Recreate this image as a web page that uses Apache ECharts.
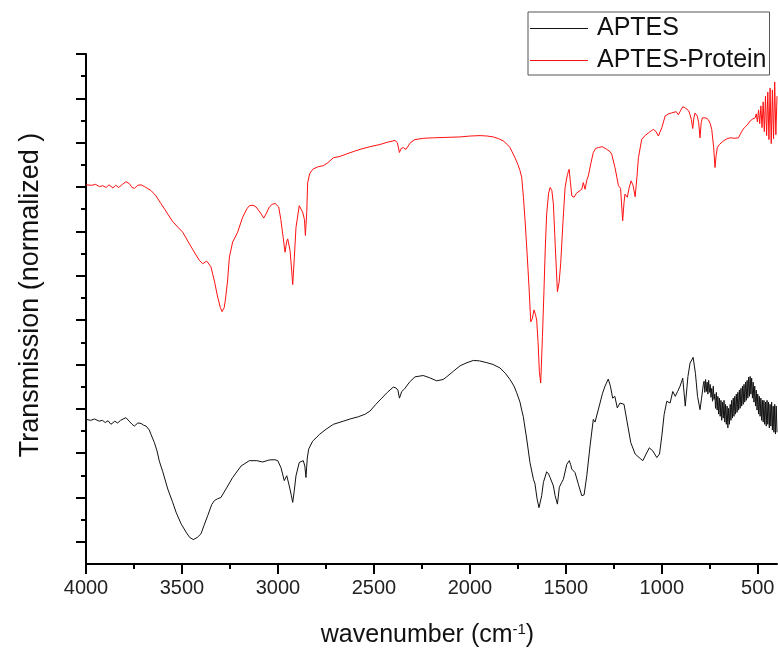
<!DOCTYPE html>
<html>
<head>
<meta charset="utf-8">
<script src="https://cdn.jsdelivr.net/npm/echarts@6/dist/echarts.min.js"></script>
<style>
  html, body { margin: 0; padding: 0; background: #fff; }
  #chart { width: 778px; height: 653px; }
</style>
</head>
<body>
<div id="chart"></div>
<script>
// FTIR spectra, wavenumber in cm^-1, transmission in normalized (offset) units

const aptesWavenumber = [4000,3975,3955,3931,3915,3900,3885,3870,3861,3850,3835,3820,3792,3775,3760,3748,3730,3713,3700,3687,3670,3661,3644,3630,3618,3600,3574,3550,3531,3505,3479,3460,3441,3420,3401,3385,3366,3345,3331,3315,3297,3271,3236,3192,3149,3110,3079,3050,3036,3015,3001,2984,2967,2954,2941,2930,2923,2915,2906,2889,2868,2860,2854,2847,2840,2819,2784,2749,2711,2660,2624,2581,2545,2520,2490,2459,2430,2399,2385,2375,2367,2355,2340,2315,2286,2243,2210,2173,2140,2121,2085,2051,2015,1982,1950,1912,1880,1843,1815,1791,1770,1756,1739,1730,1722,1704,1687,1669,1661,1650,1640,1635,1626,1617,1600,1590,1582,1565,1556,1544,1534,1523,1513,1495,1482,1475,1469,1452,1435,1417,1405,1391,1374,1357,1348,1339,1322,1309,1296,1279,1268,1256,1245,1232,1218,1197,1180,1162,1139,1113,1099,1082,1065,1047,1026,1012,1000,988,974,957,943,930,918,905,891,878,864,853,845,837,825,814,801,793,784,
  780,776,772,768,764,760,756,752,748,744,740,736,732,728,724,720,716,712,708,704,700,696,692,688,684,680,676,672,668,664,660,656,652,648,644,640,636,632,628,624,620,616,612,608,604,600,596,592,588,584,580,576,572,568,564,560,556,552,548,544,540,536,532,528,524,520,516,512,508,504,500,496,492,488,484,480,476,472,468,464,460,456,452,448,444,440,436,432,428,424,420,416,412,408,404,400];
const aptesSignal = [3.26,3.24,3.27,3.22,3.24,3.19,3.23,3.15,3.15,3.22,3.18,3.24,3.30,3.22,3.15,3.11,3.18,3.17,3.13,3.11,3.02,2.92,2.74,2.55,2.32,2.08,1.69,1.41,1.17,0.91,0.72,0.60,0.55,0.60,0.68,0.87,1.09,1.34,1.43,1.47,1.50,1.69,1.95,2.21,2.33,2.33,2.30,2.34,2.35,2.35,2.33,2.17,1.88,1.99,1.76,1.54,1.39,1.65,1.99,2.29,2.33,2.21,1.95,2.39,2.59,2.77,2.92,3.04,3.15,3.22,3.27,3.32,3.38,3.45,3.60,3.74,3.87,3.99,3.97,3.92,3.74,3.89,3.95,4.10,4.22,4.25,4.20,4.13,4.16,4.22,4.35,4.47,4.54,4.59,4.58,4.54,4.50,4.42,4.30,4.16,4.01,3.86,3.65,3.47,3.33,2.82,2.29,1.91,1.81,1.47,1.27,1.24,1.54,1.84,2.08,2.03,1.95,1.76,1.54,1.35,1.73,1.83,1.91,2.25,2.33,2.24,2.14,2.06,1.80,1.54,1.56,1.99,2.66,3.26,3.20,3.18,3.63,3.85,4.01,4.17,4.01,3.74,3.78,3.52,3.63,3.60,3.18,2.74,2.48,2.38,2.33,2.48,2.62,2.55,2.40,2.48,2.89,3.37,3.67,3.63,3.89,3.78,3.89,4.01,4.19,3.56,4.23,4.53,4.57,4.66,4.30,3.78,3.48,3.74,4.04,
  4.12,3.87,4.16,3.89,4.10,3.83,4.14,3.87,4.05,3.76,3.96,3.67,4.01,3.71,3.83,3.51,3.87,3.47,3.78,3.38,3.74,3.33,3.69,3.24,3.65,3.29,3.69,3.20,3.60,3.15,3.56,3.07,3.51,3.15,3.60,3.24,3.69,3.29,3.74,3.33,3.78,3.38,3.83,3.42,3.87,3.47,3.92,3.51,3.96,3.56,4.01,3.60,4.05,3.65,4.10,3.69,4.14,3.74,4.21,3.78,4.23,3.83,4.19,3.74,4.10,3.65,4.01,3.56,3.92,3.47,3.83,3.38,3.78,3.33,3.74,3.24,3.69,3.20,3.69,3.15,3.65,3.11,3.69,3.15,3.65,3.07,3.60,3.11,3.65,3.02,3.56,2.97,3.60,2.93,3.56,2.97];

const proteinWavenumber = [4000,3970,3950,3930,3913,3895,3880,3860,3845,3830,3810,3792,3775,3760,3748,3730,3713,3695,3680,3661,3648,3635,3610,3590,3574,3550,3520,3496,3460,3430,3410,3392,3371,3349,3330,3314,3300,3291,3280,3274,3263,3253,3236,3210,3184,3160,3149,3130,3114,3090,3074,3060,3045,3030,3015,2996,2985,2975,2963,2955,2949,2937,2930,2923,2915,2906,2889,2871,2862,2857,2850,2845,2835,2819,2790,2764,2740,2711,2677,2640,2600,2572,2520,2468,2430,2390,2378,2367,2358,2347,2333,2310,2286,2240,2190,2120,2051,2000,1947,1910,1878,1850,1826,1805,1791,1765,1750,1739,1730,1721,1712,1704,1692,1683,1675,1666,1658,1652,1645,1638,1631,1622,1614,1607,1600,1590,1582,1573,1565,1555,1544,1535,1527,1515,1504,1492,1483,1476,1469,1457,1445,1435,1417,1409,1400,1390,1383,1370,1357,1345,1331,1310,1287,1270,1261,1244,1226,1215,1204,1197,1192,1180,1170,1160,1150,1139,1130,1122,1105,1088,1070,1055,1044,1030,1018,1000,990,983,965,950,940,925,914,900,891,880,870,860,853,846,839,833,827,815,808,801,795,789,770,758,748,740,730,723,717,711,700,690,679,660,644,620,601,590,583,570,555,540,525,514,508,502,496,490,484,478,472,466,460,454,448,442,436,430,424,418,412,406,400];
const proteinSignal = [8.55,8.54,8.56,8.51,8.53,8.49,8.55,8.48,8.54,8.49,8.56,8.62,8.58,8.49,8.47,8.54,8.55,8.51,8.47,8.42,8.36,8.30,8.13,8.00,7.89,7.73,7.59,7.48,7.21,6.99,6.85,6.77,6.83,6.70,6.36,6.02,5.78,5.69,5.78,5.95,6.36,6.92,7.26,7.48,7.82,8.02,8.08,8.09,8.05,7.91,7.80,7.91,8.05,8.11,8.13,8.05,7.77,7.44,7.03,7.26,7.33,7.07,6.70,6.30,6.88,7.59,8.08,7.93,7.77,7.41,7.93,8.60,8.80,8.90,8.96,8.98,9.05,9.16,9.19,9.25,9.31,9.35,9.41,9.46,9.51,9.55,9.50,9.28,9.37,9.39,9.35,9.50,9.57,9.60,9.61,9.62,9.63,9.65,9.66,9.65,9.63,9.59,9.54,9.46,9.39,9.16,9.01,8.87,8.72,8.27,7.71,7.15,6.25,5.46,5.53,5.73,5.62,5.50,5.02,4.34,4.08,5.13,6.17,7.15,7.89,8.36,8.49,8.42,8.12,7.15,6.14,6.36,6.77,7.71,8.49,8.78,8.90,8.60,8.30,8.27,8.36,8.38,8.45,8.60,8.45,8.67,8.75,9.03,9.28,9.37,9.39,9.41,9.35,9.30,9.24,8.94,8.53,8.47,7.74,8.15,8.34,8.27,8.49,8.64,8.54,8.28,8.71,9.16,9.57,9.66,9.72,9.77,9.80,9.75,9.65,9.84,9.99,10.10,10.15,10.17,10.21,10.20,10.13,10.24,10.31,10.29,10.25,10.22,10.13,10.02,9.82,10.06,10.17,10.10,9.95,9.61,9.95,10.06,10.06,10.02,9.93,9.80,9.39,8.94,9.21,9.39,9.46,9.50,9.54,9.59,9.61,9.60,9.61,9.70,9.76,9.84,9.90,9.99,10.04,10.06,10.15,9.97,10.24,9.93,10.33,9.84,10.42,9.75,10.55,9.66,10.64,9.57,10.73,9.48,10.69,9.59,10.87,9.68,10.55];

// Axis ticks (no value labels on the vertical axis)
const xMajorTicks = [4000,3500,3000,2500,2000,1500,1000,500];
const xMinorTicks = [3750,3250,2750,2250,1750,1250,750];
const yMajorTicks = [0.5,1.5,2.5,3.5,4.5,5.5,6.5,7.5,8.5,9.5,10.5,11.5];
const yMinorTicks = [1,2,3,4,5,6,7,8,9,10,11];

const seriesNames = ['APTES', 'APTES-Protein'];

const FONT = "'Liberation Sans', Arial, sans-serif";
const pairUp = (xs, ys) => xs.map((x, i) => [x, ys[i]]);

const xBase = { type: 'value', min: 400, max: 4000, inverse: true, gridIndex: 0, position: 'bottom', splitLine: { show: false } };
const yBase = { type: 'value', min: 0, max: 11.5, gridIndex: 0, position: 'left', splitLine: { show: false } };

const chart = echarts.init(document.getElementById('chart'), null, { renderer: 'canvas' });
chart.setOption({
  animation: false,
  backgroundColor: '#ffffff',
  grid: { left: 86, right: 1, top: 54, bottom: 84, containLabel: false },
  legend: {
    data: seriesNames,
    orient: 'vertical',
    left: 528, top: 12,
    padding: [4, 3, 2, 2],
    itemGap: 7,
    icon: 'rect',
    itemWidth: 58, itemHeight: 1,
    borderColor: '#555', borderWidth: 1,
    textStyle: { fontFamily: FONT, fontSize: 25, color: '#111', padding: [0, 0, 0, 4] }
  },
  xAxis: [
    Object.assign({}, xBase, {
      name: '{a|wavenumber (cm}{s|-1}{a|)}',
      nameLocation: 'middle', nameGap: 58,
      nameTextStyle: {
        padding: [0, 8, 0, 0],
        rich: {
          a: { fontFamily: FONT, fontSize: 25, color: '#111' },
          s: { fontFamily: FONT, fontSize: 15, color: '#111', padding: [0, 0, 12, 0] }
        }
      },
      axisLine: { show: true, lineStyle: { color: '#000', width: 2 } },
      axisTick: { show: true, inside: false, length: 10, customValues: xMajorTicks, lineStyle: { color: '#000', width: 2 } },
      axisLabel: { show: true, margin: 14, customValues: xMajorTicks, formatter: v => String(v), fontFamily: FONT, fontSize: 20, color: '#222' }
    }),
    Object.assign({}, xBase, {
      axisLine: { show: false },
      axisTick: { show: true, inside: false, length: 5, customValues: xMinorTicks, lineStyle: { color: '#000', width: 2 } },
      axisLabel: { show: false }
    })
  ],
  yAxis: [
    Object.assign({}, yBase, {
      name: 'Transmission (normalized )',
      nameLocation: 'middle', nameGap: 42, nameRotate: 90,
      nameTextStyle: { fontFamily: FONT, fontSize: 27, color: '#111', padding: [0, 0, 0, 28] },
      axisLine: { show: true, lineStyle: { color: '#000', width: 2 } },
      axisTick: { show: true, inside: false, length: 10, customValues: yMajorTicks, lineStyle: { color: '#000', width: 2 } },
      axisLabel: { show: false }
    }),
    Object.assign({}, yBase, {
      axisLine: { show: false },
      axisTick: { show: true, inside: false, length: 5, customValues: yMinorTicks, lineStyle: { color: '#000', width: 2 } },
      axisLabel: { show: false }
    })
  ],
  series: [
    {
      name: seriesNames[0], type: 'line', xAxisIndex: 0, yAxisIndex: 0,
      data: pairUp(aptesWavenumber, aptesSignal),
      symbol: 'none', smooth: false,
      lineStyle: { color: '#111', width: 1 }, itemStyle: { color: '#111' }
    },
    {
      name: seriesNames[1], type: 'line', xAxisIndex: 0, yAxisIndex: 0,
      data: pairUp(proteinWavenumber, proteinSignal),
      symbol: 'none', smooth: false,
      lineStyle: { color: '#ff1010', width: 1 }, itemStyle: { color: '#ff1010' }
    }
  ]
});
</script>
</body>
</html>
